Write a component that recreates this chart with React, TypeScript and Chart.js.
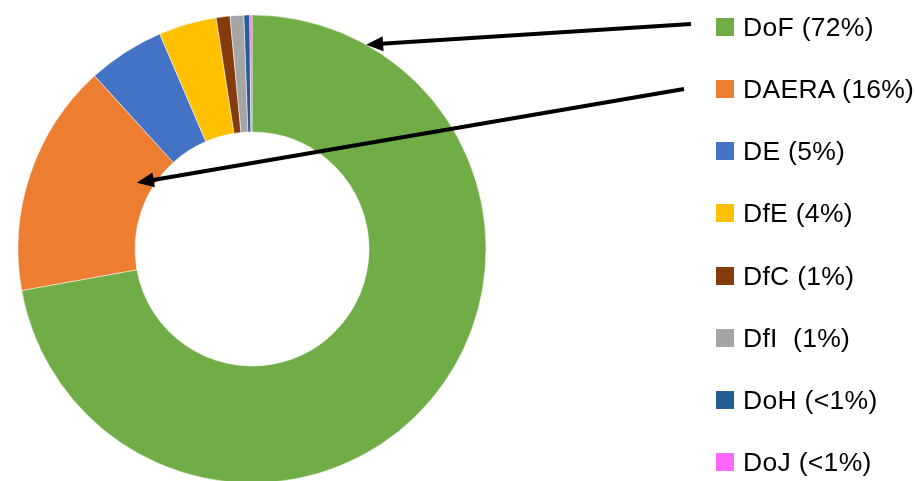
import React, { useEffect, useRef } from "react";
import { Chart, registerables } from "chart.js";

Chart.register(...registerables);

const categories = ["DoF", "DAERA", "DE", "DfE", "DfC", "DfI", "DoH", "DoJ"];
const shares = [72.2, 16.1, 5.3, 4.0, 0.95, 0.95, 0.4, 0.15];
const legendLabels = [
  "DoF (72%)",
  "DAERA (16%)",
  "DE (5%)",
  "DfE (4%)",
  "DfC (1%)",
  "DfI  (1%)",
  "DoH (<1%)",
  "DoJ (<1%)",
];
const colors = [
  "#70AD47",
  "#ED7D31",
  "#4472C4",
  "#FFC000",
  "#843C0C",
  "#A5A5A5",
  "#255E91",
  "#FF66FF",
];

// Annotation arrows: start point near the legend, tip on a slice (slice index, angle in deg, radial position as fraction of ring)
const arrowStarts = [
  [691, 24],
  [684, 89],
];
const arrowTargets = [
  { slice: 0, angleDeg: -60.8, ringFrac: 1.0 },
  { slice: 1, angleDeg: 209.9, ringFrac: 0.135 },
];

const arrowPlugin = {
  id: "arrows",
  afterDatasetsDraw(chart: any) {
    const meta = chart.getDatasetMeta(0);
    const ctx = chart.ctx;
    ctx.save();
    ctx.strokeStyle = "#000";
    ctx.fillStyle = "#000";
    ctx.lineWidth = 4;
    arrowTargets.forEach((t, i) => {
      const arc = meta.data[t.slice];
      if (!arc) return;
      const { x, y, innerRadius, outerRadius } = arc.getProps(
        ["x", "y", "innerRadius", "outerRadius"],
        true
      );
      const r = innerRadius + (outerRadius - innerRadius) * t.ringFrac;
      const a = (t.angleDeg * Math.PI) / 180;
      const tx = x + r * Math.cos(a);
      const ty = y + r * Math.sin(a);
      const [sx, sy] = arrowStarts[i];
      const dx = tx - sx;
      const dy = ty - sy;
      const len = Math.hypot(dx, dy);
      const ux = dx / len;
      const uy = dy / len;
      const headLen = 17;
      const headHalf = 7.5;
      const bx = tx - ux * headLen;
      const by = ty - uy * headLen;
      ctx.beginPath();
      ctx.moveTo(sx, sy);
      ctx.lineTo(bx + ux * 2, by + uy * 2);
      ctx.stroke();
      ctx.beginPath();
      ctx.moveTo(tx, ty);
      ctx.lineTo(bx - uy * headHalf, by + ux * headHalf);
      ctx.lineTo(bx + uy * headHalf, by - ux * headHalf);
      ctx.closePath();
      ctx.fill();
    });
    ctx.restore();
  },
};

export default function App() {
  const canvasRef = useRef<HTMLCanvasElement | null>(null);

  useEffect(() => {
    if (!canvasRef.current) return;
    const chart = new Chart(canvasRef.current, {
      type: "doughnut",
      data: {
        labels: categories,
        datasets: [
          {
            data: shares,
            backgroundColor: colors,
            borderColor: "#ffffff",
            borderWidth: 0.5,
          },
        ],
      },
      options: {
        responsive: false,
        animation: false,
        radius: 234,
        cutout: "50%",
        layout: { padding: { left: 0, right: 411, top: 17, bottom: 0 } },
        plugins: {
          legend: { display: false },
          tooltip: { enabled: false },
        },
      } as any,
      plugins: [arrowPlugin],
    });
    return () => chart.destroy();
  }, []);

  return (
    <div
      style={{
        position: "absolute",
        left: 0,
        top: 0,
        width: 915,
        height: 481,
        overflow: "hidden",
        background: "#fff",
      }}
    >
      <canvas
        ref={canvasRef}
        width={915}
        height={481}
        style={{ display: "block", width: 915, height: 481 }}
      />
      {legendLabels.map((label, i) => (
        <div
          key={label}
          style={{
            position: "absolute",
            left: 716,
            top: 17.7 + 62.2 * i,
            height: 18,
            display: "flex",
            alignItems: "center",
          }}
        >
          <span
            style={{
              display: "inline-block",
              width: 18,
              height: 18,
              background: colors[i],
            }}
          />
          <span
            style={{
              marginLeft: 9,
              fontFamily: '"Liberation Sans", Arial, sans-serif',
              fontSize: 26.5,
              letterSpacing: 0.3,
              lineHeight: "18px",
              color: "#000",
              whiteSpace: "pre",
            }}
          >
            {label}
          </span>
        </div>
      ))}
    </div>
  );
}
